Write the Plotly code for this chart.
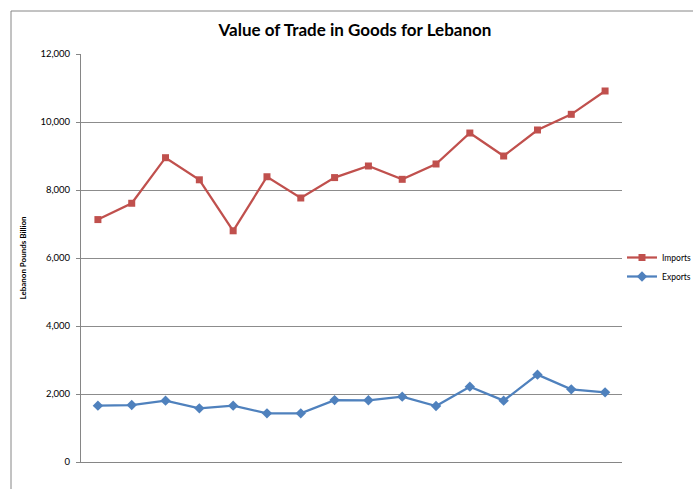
import plotly.graph_objects as go

periods = list(range(1, 17))
imports = [7130, 7610, 8950, 8300, 6800, 8390, 7765, 8365, 8706, 8314, 8765, 9676, 9000, 9765, 10226, 10912]
exports = [1657, 1676, 1804, 1578, 1657, 1431, 1431, 1820, 1814, 1922, 1647, 2216, 1804, 2569, 2137, 2049]

W, H = 693, 489
L, T = 81, 54
pw, ph = 541, 408
R, B = W - L - pw, H - T - ph

def px_x(p):  # page pixel -> paper
    return (p - L) / pw

def px_y(p):
    return (T + ph - p) / ph

fig = go.Figure()
fig.add_trace(go.Scatter(
    x=periods, y=imports, name="Imports", mode="lines+markers",
    line=dict(color="#C0504D", width=2.25),
    marker=dict(symbol="square", size=7, color="#C0504D"),
))
fig.add_trace(go.Scatter(
    x=periods, y=exports, name="Exports", mode="lines+markers",
    line=dict(color="#4F81BD", width=2.25),
    marker=dict(symbol="diamond", size=8, color="#4F81BD"),
))

fig.update_layout(
    width=W, height=H,
    margin=dict(l=L, r=R, t=T, b=B, autoexpand=False),
    paper_bgcolor="white", plot_bgcolor="white",
    font=dict(family="Lato, Carlito, 'Liberation Sans', sans-serif", color="#000000"),
    title=dict(text="<b>Value of Trade in Goods for Lebanon</b>", x=355 / W, xanchor="center",
               y=1 - 30 / H, yanchor="middle", font=dict(size=17)),
    showlegend=True,
    legend=dict(xref="container", yref="container",
                x=622 / W, y=1 - 267 / H, xanchor="left", yanchor="middle",
                font=dict(size=8.5), bgcolor="rgba(0,0,0,0)",
                itemwidth=30),
    xaxis=dict(range=[0.5, 16.5], showticklabels=False, showgrid=False, zeroline=False,
               showline=True, linecolor="#868686", linewidth=1, ticks=""),
    yaxis=dict(range=[0, 12000], dtick=2000, tickformat=",", showgrid=True,
               gridcolor="#8C8C8C", gridwidth=1, zeroline=False,
               showline=True, linecolor="#868686", linewidth=1,
               ticks="outside", ticklen=4, tickcolor="#868686",
               ticklabelstandoff=4,
               tickfont=dict(size=9.5),
               title=dict(text="<b>Lebanon Pounds Billion</b>", font=dict(size=8), standoff=12)),
    shapes=[dict(type="rect", xref="paper", yref="paper",
                 x0=px_x(11), x1=px_x(720), y0=px_y(520), y1=px_y(11),
                 line=dict(color="#868686", width=1), fillcolor="rgba(0,0,0,0)", layer="below")],
)

fig.write_html("out.html", config={"displayModeBar": False},
               post_script="document.body.style.margin='0px';")
